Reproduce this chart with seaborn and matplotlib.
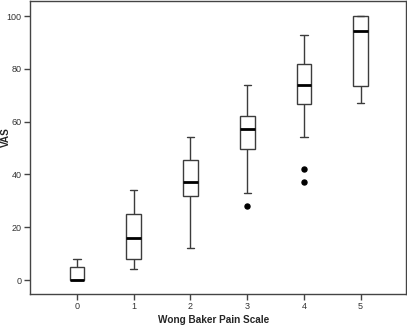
import matplotlib
matplotlib.use("Agg")
import matplotlib.pyplot as plt
import seaborn as sns
import pandas as pd

# VAS scores recorded for each Wong Baker face rating
scale_levels = [0, 1, 2, 3, 4, 5]
vas_0 = [0, 0, 0, 5, 8]
vas_1 = [4, 8, 16, 25, 34]
vas_2 = [12, 31.7, 37, 45.5, 54]
vas_3 = [28, 33, 49.7, 52, 57.2, 60, 62, 70, 74]
vas_4 = [37, 42, 54, 66.5, 68, 70, 74, 77, 80, 82, 86, 90, 93]
vas_5 = [67, 73.5, 94.5, 100, 100]
y_ticks = [0, 20, 40, 60, 80, 100]

groups = [vas_0, vas_1, vas_2, vas_3, vas_4, vas_5]
df = pd.DataFrame({
    "Wong Baker Pain Scale": [lvl for lvl, g in zip(scale_levels, groups) for _ in g],
    "VAS": [v for g in groups for v in g],
})

sns.set_style("white")
plt.rcParams["font.family"] = ["Liberation Sans", "DejaVu Sans"]

fig = plt.figure(figsize=(4.07, 3.26), dpi=100)
ax = fig.add_axes([0.0737, 0.098, 0.9238, 0.899])

edge = "#3c3c3c"
sns.boxplot(
    data=df, x="Wong Baker Pain Scale", y="VAS", order=scale_levels,
    ax=ax, width=0.26, color="white", linecolor=edge, linewidth=1.0,
    boxprops=dict(facecolor="white", edgecolor=edge, linewidth=1.0),
    medianprops=dict(color="black", linewidth=2.0),
    whiskerprops=dict(color=edge, linewidth=1.0),
    capprops=dict(color=edge, linewidth=1.0),
    flierprops=dict(marker="o", markerfacecolor="black", markeredgecolor="black",
                    markersize=3.6),
)

ax.set_xlim(-0.83, 5.8)
ax.set_ylim(-5.3, 105.7)
ax.set_yticks(y_ticks)
ax.set_xticks(range(len(scale_levels)))
ax.set_xticklabels([str(s) for s in scale_levels])

for side in ["left", "right", "top", "bottom"]:
    ax.spines[side].set_visible(True)
    ax.spines[side].set_color("#444444")
    ax.spines[side].set_linewidth(1.0)

ax.tick_params(axis="both", which="major", direction="out", length=4, width=1,
               color="#444444", labelsize=6.5, labelcolor="#333333", pad=2)
ax.tick_params(axis="x", bottom=True)
ax.tick_params(axis="y", left=True)

ax.set_xlabel("Wong Baker Pain Scale", fontsize=7.2, fontweight="bold", va="center")
ax.set_ylabel("VAS", fontsize=7.2, fontweight="bold", va="center")
ax.xaxis.set_label_coords(0.488, -0.087)
ax.yaxis.set_label_coords(-0.063, 0.536)

fig.savefig("out.png", dpi=100)
